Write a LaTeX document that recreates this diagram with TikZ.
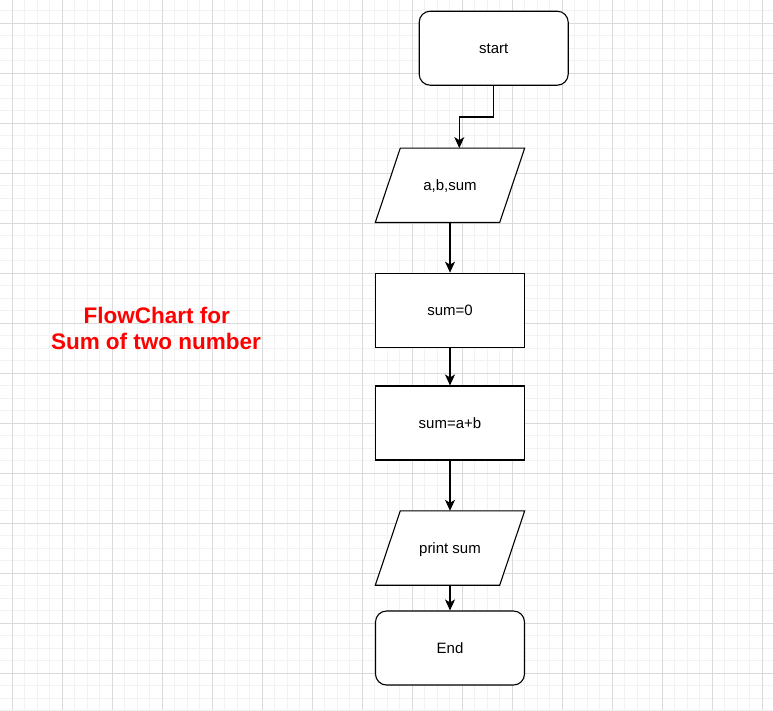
\documentclass[tikz,border=0pt]{standalone}
\usepackage{fontspec}
\setmainfont{Liberation Sans}
\usetikzlibrary{arrows.meta,calc}
\definecolor{gridminor}{HTML}{F2F2F2}
\definecolor{gridmajor}{HTML}{DADADA}
\definecolor{titlered}{HTML}{FF0000}
\pgfdeclarelayer{gridlayer}
\pgfdeclarelayer{shapelayer}
\pgfsetlayers{gridlayer,shapelayer,main}
\begin{document}
\begin{tikzpicture}[x=1pt,y=-1pt,
  boxbase/.style={minimum width=149pt, minimum height=74pt, inner sep=0pt,
    text height=13.6pt, text depth=3.2pt,
    font=\fontsize{15}{18}\selectfont},
  term/.style={boxbase, draw=black, fill=white, line width=1.1pt, rounded corners=11pt},
  proc/.style={boxbase, draw=black, fill=white, line width=1.1pt},
  io/.style={boxbase},
  ioshape/.style={draw=black, fill=white, line width=1.1pt, line join=miter},
  arr/.style={draw=black, line width=1.1pt, -{Stealth[length=11pt,width=10pt,inset=3pt]}},
  title/.style={text=titlered, font=\fontsize{22.5}{27}\selectfont\bfseries, inner sep=0pt},
  gminor/.style={draw=gridminor, line width=1pt},
  gmajor/.style={draw=gridmajor, line width=1pt}
]
\useasboundingbox (0,0) rectangle (773,710);
\begin{pgfonlayer}{gridlayer}
  \fill[white] (0,0) rectangle (773,710);
  \foreach \i in {0,...,62} {\draw[gminor] (-0.2+12.5*\i,0) -- (-0.2+12.5*\i,710);}
  \foreach \j in {0,...,57} {\draw[gminor] (0,-1.7+12.5*\j) -- (773,-1.7+12.5*\j);}
  \foreach \i in {0,...,15} {\draw[gmajor] (12.3+50*\i,0) -- (12.3+50*\i,710);}
  \foreach \j in {0,...,14} {\draw[gmajor] (0,23.3+50*\j) -- (773,23.3+50*\j);}
\end{pgfonlayer}

\node[term] (start) at (493.7,48.2) {start};
\node[io] (in) at (450,185.3) {a,b,sum};
\node[proc] (sum0) at (450,310.2) {sum=0};
\node[proc] (sumab) at (450,423) {sum=a+b};
\node[io] (out) at (450,548) {print sum};
\node[term] (end) at (450,648) {End};

\begin{pgfonlayer}{shapelayer}
  \draw[ioshape] ([xshift=25pt]in.north west) -- (in.north east)
     -- ([xshift=-25pt]in.south east) -- (in.south west) -- cycle;
  \draw[ioshape] ([xshift=25pt]out.north west) -- (out.north east)
     -- ([xshift=-25pt]out.south east) -- (out.south west) -- cycle;
\end{pgfonlayer}

\draw[arr] (start.south) -- ++(0,31.2) -| ([xshift=9.3pt]in.north);
\draw[arr] (in.south) -- (sum0.north);
\draw[arr] (sum0.south) -- (sumab.north);
\draw[arr] (sumab.south) -- (out.north);
\draw[arr] (out.south) -- (end.north);

\node[title, anchor=base] (t1) at (156.8,323.3) {FlowChart for};
\node[title, anchor=base] (t2) at (156,349.8) {Sum of two number};
\end{tikzpicture}
\end{document}
